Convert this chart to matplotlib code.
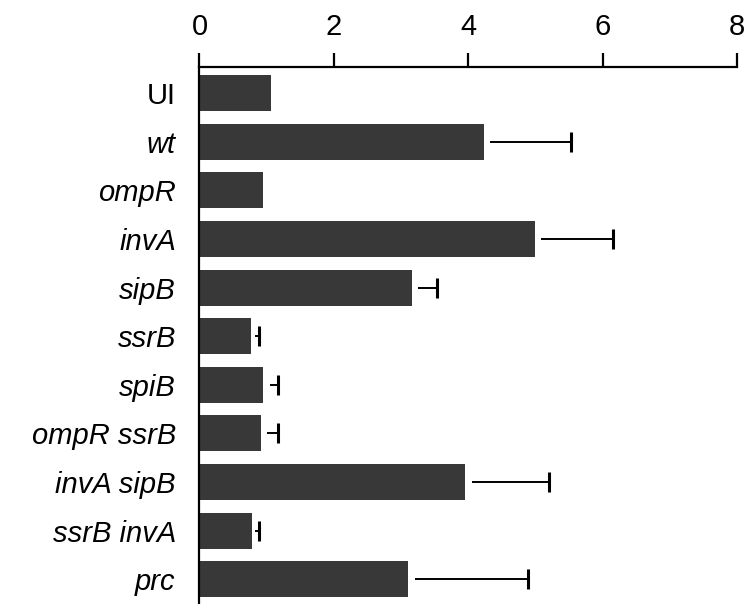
import numpy as np
import matplotlib
matplotlib.use("Agg")
import matplotlib.pyplot as plt

plt.rcParams['font.family'] = ['Liberation Sans', 'DejaVu Sans']

# data
strains = ["UI", "wt", "ompR", "invA", "sipB", "ssrB", "spiB",
           "ompR ssrB", "invA sipB", "ssrB invA", "prc"]
means = [1.07, 4.23, 0.95, 4.99, 3.16, 0.76, 0.95, 0.91, 3.95, 0.78, 3.11]
errs = [0, 1.30, 0, 1.16, 0.37, 0.12, 0.22, 0.26, 1.25, 0.10, 1.78]
xticks = [0, 2, 4, 6, 8]

means = np.array(means)
errs = np.array(errs)
pos = np.arange(len(strains))

fig = plt.figure(figsize=(7.47, 6.04), dpi=100)
ax = fig.add_axes([0.267, 0.0, 0.9866 - 0.267, 0.889])

ax.barh(pos, means, height=0.74, color="#383838", zorder=2)

# error bars start a little right of the bar end, like the original
gap = 0.1
has = errs > 0
ax.hlines(pos[has], means[has] + np.minimum(gap, errs[has] * 0.5),
          means[has] + errs[has], color="black", lw=1.4, zorder=3)
ax.plot(means[has] + errs[has], pos[has], ls="none", marker="|",
        markersize=15, mew=2.2, color="black", zorder=3)

ax.set_xlim(0, 8)
ax.set_ylim(10.51, -0.535)
ax.xaxis.tick_top()
ax.set_xticks(xticks)
ax.set_xticklabels([str(t) for t in xticks], fontsize=21)
ax.tick_params(axis="x", direction="out", length=10, width=1.6, pad=9)
ax.set_yticks(pos)
ax.set_yticklabels(strains, fontsize=21)
ax.tick_params(axis="y", length=0, pad=17)
for lab in ax.get_yticklabels():
    if lab.get_text() != "UI":
        lab.set_style("italic")

for s in ["right", "bottom"]:
    ax.spines[s].set_visible(False)
ax.spines["top"].set_linewidth(1.6)
ax.spines["left"].set_linewidth(1.6)

fig.savefig("out.png", dpi=100)
